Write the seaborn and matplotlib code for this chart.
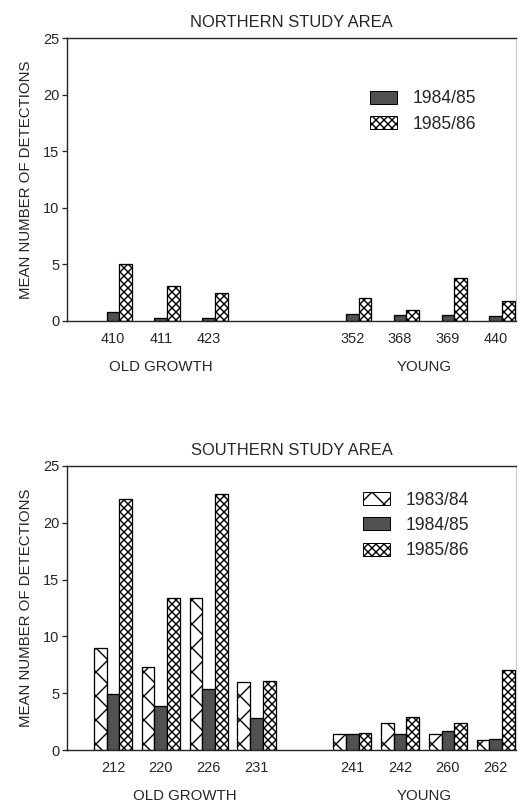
import matplotlib
matplotlib.use("Agg")
import matplotlib.pyplot as plt
from matplotlib.patches import Patch
import pandas as pd
import seaborn as sns

# seasons and their look
seasons = ["1983/84", "1984/85", "1985/86"]
season_fill = {"1983/84": "white", "1984/85": "#505050", "1985/86": "white"}
season_hatch = {"1983/84": "x", "1984/85": "", "1985/86": "xxx"}

# northern study area
north_old = ["410", "411", "423"]
north_young = ["352", "368", "369", "440"]
north_8485 = [0.8, 0.3, 0.3, 0.6, 0.5, 0.5, 0.4]
north_8586 = [5.0, 3.1, 2.5, 2.0, 1.0, 3.8, 1.8]

# southern study area
south_old = ["212", "220", "226", "231"]
south_young = ["241", "242", "260", "262"]
south_8384 = [9.0, 7.3, 13.4, 6.0, 1.4, 2.4, 1.4, 0.9]
south_8485 = [4.9, 3.9, 5.4, 2.8, 1.4, 1.4, 1.7, 1.0]
south_8586 = [22.1, 13.4, 22.5, 6.1, 1.5, 2.9, 2.4, 7.0]

sns.set_style("ticks")
plt.rcParams["font.family"] = ["Liberation Sans", "DejaVu Sans"]
plt.rcParams["hatch.linewidth"] = 1.4


def make_frame(sites, series):
    rows = []
    for season, vals in series.items():
        for s, v in zip(sites, vals):
            rows.append({"site": s, "season": season, "mean": v})
    return pd.DataFrame(rows)


def draw_panel(ax, df, order, groups, title, leg_seasons, leg_anchor):
    sns.barplot(data=df, x="site", y="mean", hue="season", order=order,
                hue_order=seasons, palette=season_fill, saturation=1,
                width=0.8, edgecolor="black", linewidth=1.3,
                errorbar=None, legend=False, ax=ax)
    # one container per hue level
    conts = ax.containers
    levels = seasons if len(conts) == len(seasons) else leg_seasons
    for season, cont in zip(levels, conts):
        for bar in cont:
            bar.set_hatch(season_hatch[season])

    ax.set_xlim(-0.96, 8.42)
    ax.set_ylim(0, 25)
    ax.set_yticks([0, 5, 10, 15, 20, 25])
    ax.tick_params(axis="x", length=0, pad=11, labelsize=14.5)
    ax.tick_params(axis="y", length=5, width=1.3, labelsize=14.5, pad=3)
    ax.set_xlabel("")
    ax.set_ylabel("MEAN NUMBER OF DETECTIONS", fontsize=15, labelpad=10)
    ax.set_title(title, fontsize=16.5, pad=11)
    for side in ["left", "bottom", "top"]:
        ax.spines[side].set_visible(True)
        ax.spines[side].set_linewidth(1.4)
    ax.spines["right"].set_visible(True)
    ax.spines["right"].set_color("#bbbbbb")

    for name, sites in groups:
        pos = [order.index(s) for s in sites]
        xc = (min(pos) + max(pos)) / 2
        ax.annotate(name, xy=(xc, 0), xycoords=ax.get_xaxis_transform(),
                    xytext=(0, -46), textcoords="offset points",
                    ha="center", va="center", fontsize=15)

    handles = [Patch(facecolor=season_fill[s], edgecolor="black",
                     hatch=season_hatch[s], label=s) for s in leg_seasons]
    ax.legend(handles=handles, loc="upper left", bbox_to_anchor=leg_anchor,
              frameon=False, fontsize=17.5, handlelength=1.55,
              handleheight=0.75, handletextpad=0.9, labelspacing=0.48,
              borderpad=0, borderaxespad=0)


fig = plt.figure(figsize=(520 / 72, 802 / 72), dpi=72)
ax1 = fig.add_axes([0.129, 0.5998, 0.863, 0.3528])
ax2 = fig.add_axes([0.129, 0.0648, 0.863, 0.3542])

north_df = make_frame(north_old + north_young,
                      {"1984/85": north_8485, "1985/86": north_8586})
north_order = north_old + ["", " "] + north_young
draw_panel(ax1, north_df, north_order,
           [("OLD GROWTH", north_old), ("YOUNG", north_young)],
           "NORTHERN STUDY AREA", ["1984/85", "1985/86"], (0.675, 0.815))

south_df = make_frame(south_old + south_young,
                      {"1983/84": south_8384, "1984/85": south_8485,
                       "1985/86": south_8586})
south_order = south_old + [""] + south_young
draw_panel(ax2, south_df, south_order,
           [("OLD GROWTH", south_old), ("YOUNG", south_young)],
           "SOUTHERN STUDY AREA", seasons, (0.659, 0.91))

fig.savefig("out.png", dpi=72)
